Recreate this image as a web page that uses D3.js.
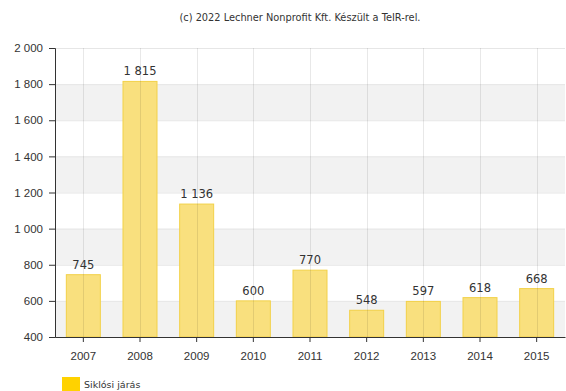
<!DOCTYPE html>
<html>
<head>
<meta charset="utf-8">
<script src="https://cdn.jsdelivr.net/npm/d3@7"></script>
<style>
  body { margin: 0; background: #fff; }
  svg { display: block; font-family: Verdana, "DejaVu Sans", sans-serif; }
  .axis text { fill: #333; font-size: 11.5px; }
  .axis path, .axis line { stroke: #333; }
</style>
</head>
<body>
<div id="chart"></div>
<script>
var years = ["2007", "2008", "2009", "2010", "2011", "2012", "2013", "2014", "2015"];
var values = [745, 1815, 1136, 600, 770, 548, 597, 618, 668];
var yTicks = [400, 600, 800, 1000, 1200, 1400, 1600, 1800, 2000];
var seriesName = "Siklósi járás";
var credit = "(c) 2022 Lechner Nonprofit Kft. Készült a TeIR-rel.";

var W = 566, H = 391;
var margin = { top: 48, right: 1, bottom: 54, left: 55 };
var innerW = W - margin.left - margin.right;
var innerH = H - margin.top - margin.bottom;

var fmt = d3.formatLocale({ decimal: ",", thousands: "\u00a0", grouping: [3], currency: ["", ""] }).format(",d");

var svg = d3.select("#chart").append("svg")
    .attr("width", W)
    .attr("height", H);

svg.append("text")
    .attr("x", 300)
    .attr("y", 21)
    .attr("text-anchor", "middle")
    .attr("font-size", "9.8px")
    .attr("fill", "#333")
    .text(credit);

var g = svg.append("g")
    .attr("transform", "translate(" + margin.left + "," + margin.top + ")");

var x = d3.scaleBand().domain(years).range([0, innerW]).paddingInner(0.4).paddingOuter(0.2);
var y = d3.scaleLinear().domain([400, 2000]).range([innerH, 0]);

// alternating bands
for (var i = 0; i < yTicks.length - 1; i++) {
    if (i % 2 == 0) {
        g.append("rect")
            .attr("x", 0)
            .attr("width", innerW)
            .attr("y", y(yTicks[i + 1]))
            .attr("height", y(yTicks[i]) - y(yTicks[i + 1]))
            .attr("fill", "#f2f2f2");
    }
}

// horizontal grid
g.selectAll(".hgrid")
    .data(yTicks)
    .enter()
    .append("line")
    .attr("class", "hgrid")
    .attr("x1", 0)
    .attr("x2", innerW)
    .attr("y1", function(d) { return y(d) + 0.5; })
    .attr("y2", function(d) { return y(d) + 0.5; })
    .attr("stroke", "#e6e6e6");

g.selectAll(".bar")
    .data(values)
    .enter()
    .append("rect")
    .attr("class", "bar")
    .attr("x", function(d, i) { return x(years[i]); })
    .attr("width", x.bandwidth())
    .attr("y", function(d) { return y(d); })
    .attr("height", function(d) { return innerH - y(d); })
    .attr("fill", "#f9e07e")
    .attr("stroke", "#f2d148")
    .attr("stroke-width", 1);

// vertical grid through category centers (shows through the bars)
g.selectAll(".vgrid")
    .data(years)
    .enter()
    .append("line")
    .attr("class", "vgrid")
    .attr("x1", function(d) { return Math.round(x(d) + x.bandwidth() / 2) + 0.5; })
    .attr("x2", function(d) { return Math.round(x(d) + x.bandwidth() / 2) + 0.5; })
    .attr("y1", 0)
    .attr("y2", innerH)
    .attr("stroke", "#000")
    .attr("stroke-opacity", 0.09);

g.selectAll(".lbl")
    .data(values)
    .enter()
    .append("text")
    .attr("class", "lbl")
    .attr("x", function(d, i) { return x(years[i]) + x.bandwidth() / 2; })
    .attr("y", function(d) { return y(d) - 6; })
    .attr("text-anchor", "middle")
    .attr("font-size", "11.5px")
    .attr("fill", "#333")
    .text(function(d) { return fmt(d); });

g.append("g")
    .attr("class", "axis")
    .call(d3.axisLeft(y).tickValues(yTicks).tickSize(6).tickPadding(6).tickFormat(fmt));

g.append("g")
    .attr("class", "axis")
    .attr("transform", "translate(0," + innerH + ")")
    .call(d3.axisBottom(x).tickSize(5).tickSizeOuter(0).tickPadding(10));

// legend
var legend = svg.append("g").attr("transform", "translate(62,377)");
legend.append("rect")
    .attr("width", 18)
    .attr("height", 14)
    .attr("fill", "#ffd200");
legend.append("text")
    .attr("x", 22)
    .attr("y", 11)
    .attr("font-size", "9.5px")
    .attr("fill", "#333")
    .text(seriesName);
</script>
</body>
</html>
